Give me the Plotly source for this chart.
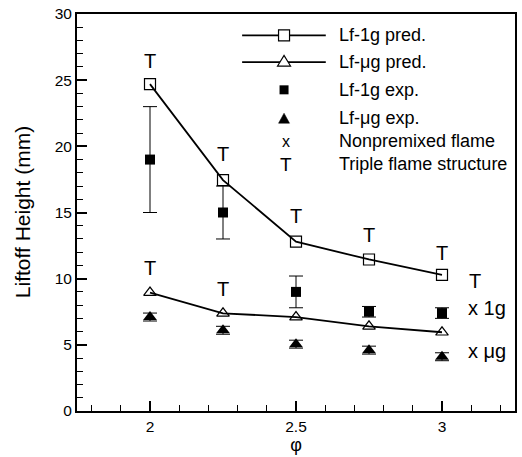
import plotly.graph_objects as go

# ---------------- data ----------------
phi = [2.0, 2.25, 2.5, 2.75, 3.0]
lf_1g_pred = [24.7, 17.45, 12.8, 11.45, 10.28]
lf_ug_pred = [8.95, 7.38, 7.1, 6.4, 5.95]
lf_1g_exp = [19.0, 15.0, 9.0, 7.5, 7.4]
lf_1g_exp_err = [4.0, 2.0, 1.2, 0.4, 0.4]
lf_ug_exp = [7.1, 6.1, 5.05, 4.6, 4.1]
lf_ug_exp_err = [0.3, 0.3, 0.3, 0.3, 0.3]

triple_1g_phi = [2.0, 2.25, 2.5, 2.75, 3.0]
triple_1g_y = [26.3, 19.25, 14.55, 13.15, 11.8]
triple_ug_phi = [2.0, 2.25]
triple_ug_y = [10.65, 9.05]

legend_labels = ["Lf-1g pred.", "Lf-\u03bcg pred.", "Lf-1g exp.", "Lf-\u03bcg exp.",
                 "Nonpremixed flame", "Triple flame structure"]
side_labels = ["T", "x 1g", "x \u03bcg"]
side_phi = [3.085, 3.082, 3.082]
side_y = [9.8, 7.75, 4.5]

x_ticks = [2, 2.5, 3]
x_tick_text = ["2", "2.5", "3"]
y_ticks = [0, 5, 10, 15, 20, 25, 30]

FONT = "Liberation Sans, Arial, sans-serif"

fig = go.Figure()

fig.add_trace(go.Scatter(
    x=phi, y=lf_1g_pred, mode="lines+markers", name=legend_labels[0],
    line=dict(color="black", width=1.8),
    marker=dict(symbol="square-open", size=11, color="black", line=dict(width=1.2)),
))
fig.add_trace(go.Scatter(
    x=phi, y=lf_ug_pred, mode="lines+markers", name=legend_labels[1],
    line=dict(color="black", width=1.8),
    marker=dict(symbol="triangle-up-open", size=11, color="black", line=dict(width=1.2)),
))
fig.add_trace(go.Scatter(
    x=phi, y=lf_1g_exp, mode="markers", name=legend_labels[2],
    marker=dict(symbol="square", size=10, color="black"),
    error_y=dict(type="data", array=lf_1g_exp_err, visible=True,
                 color="black", thickness=1, width=7),
))
fig.add_trace(go.Scatter(
    x=phi, y=lf_ug_exp, mode="markers", name=legend_labels[3],
    marker=dict(symbol="triangle-up", size=12, color="black"),
    error_y=dict(type="data", array=lf_ug_exp_err, visible=True,
                 color="black", thickness=1, width=7),
))
fig.add_trace(go.Scatter(
    x=triple_1g_phi, y=triple_1g_y, mode="text", text=["T"] * len(triple_1g_y),
    textfont=dict(family=FONT, size=20, color="black"), textposition="middle center",
    showlegend=False,
))
fig.add_trace(go.Scatter(
    x=triple_ug_phi, y=triple_ug_y, mode="text", text=["T"] * len(triple_ug_y),
    textfont=dict(family=FONT, size=20, color="black"), textposition="middle center",
    showlegend=False,
))

annotations = []
for lab, px, py in zip(side_labels, side_phi, side_y):
    annotations.append(dict(x=px, y=py, xref="x", yref="y", text=lab, showarrow=False,
                            xanchor="left", yanchor="middle",
                            font=dict(family=FONT, size=20, color="black")))

# manual legend (layout positions, paper coordinates)
leg_rows = [0.946, 0.879, 0.809, 0.7375, 0.68, 0.622]
leg_text_x = 0.593
leg_sym_x = 0.4727
leg_line = (0.377, 0.568)
for lab, ry in zip(legend_labels, leg_rows):
    annotations.append(dict(x=leg_text_x, y=ry, xref="paper", yref="paper", text=lab,
                            showarrow=False, xanchor="left", yanchor="middle",
                            font=dict(family=FONT, size=18, color="black")))
annotations.append(dict(x=leg_sym_x + 0.004, y=leg_rows[4], xref="paper", yref="paper", text="x",
                        showarrow=False, xanchor="center", yanchor="middle",
                        font=dict(family=FONT, size=16, color="black")))
annotations.append(dict(x=leg_sym_x + 0.004, y=leg_rows[5], xref="paper", yref="paper", text="T",
                        showarrow=False, xanchor="center", yanchor="middle",
                        font=dict(family=FONT, size=19, color="black")))
# y axis title
annotations.append(dict(x=-0.124, y=0.5, xref="paper", yref="paper", text="Liftoff Height (mm)",
                        showarrow=False, textangle=-90, xanchor="center", yanchor="middle",
                        font=dict(family=FONT, size=21, color="black")))

shapes = []
for ry in leg_rows[:2]:
    shapes.append(dict(type="line", xref="paper", yref="paper", x0=leg_line[0], x1=leg_line[1],
                       y0=ry, y1=ry, line=dict(color="black", width=1.8)))
pix = dict(xref="paper", yref="paper", xsizemode="pixel", ysizemode="pixel", xanchor=leg_sym_x)
shapes.append(dict(type="rect", yanchor=leg_rows[0], x0=-5.5, x1=5.5, y0=-5.5, y1=5.5,
                   line=dict(color="black", width=1.2), fillcolor="white", **pix))
shapes.append(dict(type="path", yanchor=leg_rows[1], path="M-6.5,-4 L6.5,-4 L0,6.7 Z",
                   line=dict(color="black", width=1.2), fillcolor="white", **pix))
shapes.append(dict(type="rect", yanchor=leg_rows[2], x0=-4.5, x1=4.5, y0=-4.5, y1=4.5,
                   line=dict(color="black", width=0), fillcolor="black", **pix))
shapes.append(dict(type="path", yanchor=leg_rows[3], path="M-5.5,-5 L5.5,-5 L0,5 Z",
                   line=dict(color="black", width=0.5), fillcolor="black", **pix))

fig.update_layout(
    width=522, height=457,
    margin=dict(l=77, r=5, t=11, b=46),
    paper_bgcolor="white", plot_bgcolor="white",
    showlegend=False,
    font=dict(family=FONT, color="black"),
    annotations=annotations,
    shapes=shapes,
    xaxis=dict(
        range=[1.75, 3.25], tickvals=x_ticks, ticktext=x_tick_text,
        ticks="inside", ticklen=10, tickwidth=1.5, tickcolor="black",
        minor=dict(dtick=0.1, tick0=2, ticks="inside", ticklen=6, tickwidth=1, tickcolor="black"),
        showline=True, linewidth=2, linecolor="black", mirror=True,
        showgrid=False, zeroline=False,
        tickfont=dict(family=FONT, size=15.5, color="black"),
        title=dict(text="\u03c6", font=dict(family=FONT, size=18, color="black"), standoff=2),
    ),
    yaxis=dict(
        range=[0, 30], tickvals=y_ticks,
        ticks="inside", ticklen=10, tickwidth=1.5, tickcolor="black",
        minor=dict(dtick=1, tick0=0, ticks="inside", ticklen=6, tickwidth=1, tickcolor="black"),
        showline=True, linewidth=2, linecolor="black", mirror=True,
        showgrid=False, zeroline=False,
        tickfont=dict(family=FONT, size=15.5, color="black"),
    ),
)

# remove the browser's default 8px body margin so the figure fills the window exactly
fig.write_html("out.html", config={"displayModeBar": False},
               post_script="document.body.style.margin='0';document.body.style.overflow='hidden';")
